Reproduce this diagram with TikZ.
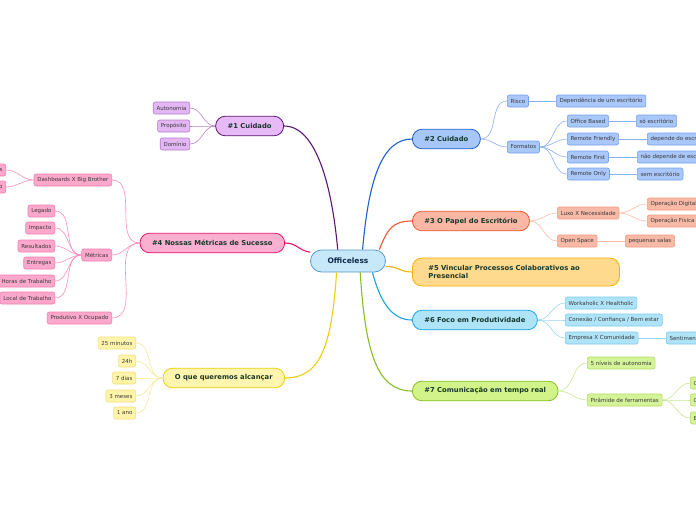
\documentclass[tikz,border=0pt]{standalone}
\usepackage{fontspec}
\setmainfont{DejaVu Sans}
\usepackage{xcolor}
\usetikzlibrary{positioning}
\definecolor{rootfill}{HTML}{C6E8F8}
\definecolor{rootline}{HTML}{5A9BD0}
\definecolor{rootink}{HTML}{10294A}
\definecolor{topicink}{HTML}{16392C}
\definecolor{leafink}{HTML}{3A3A3A}
\definecolor{purpfill}{HTML}{E7B9F7}
\definecolor{purpline}{HTML}{5C1570}
\definecolor{purpleaf}{HTML}{E3B6F4}
\definecolor{purpleafline}{HTML}{B57FCB}
\definecolor{purplink}{HTML}{B985C9}
\definecolor{bluefill}{HTML}{A6C7F8}
\definecolor{blueline}{HTML}{1E60CF}
\definecolor{blueleaf}{HTML}{A9C7F9}
\definecolor{blueleafline}{HTML}{74A2EC}
\definecolor{bluelink}{HTML}{8DB2F0}
\definecolor{salfill}{HTML}{F9B7A4}
\definecolor{salline}{HTML}{EB5A30}
\definecolor{salleaf}{HTML}{F8B9A6}
\definecolor{salleafline}{HTML}{F29A80}
\definecolor{sallink}{HTML}{F9BBA9}
\definecolor{goldfill}{HTML}{FEDA8E}
\definecolor{goldline}{HTML}{F5B100}
\definecolor{skyfill}{HTML}{AEE3F8}
\definecolor{skyline}{HTML}{1AA4E2}
\definecolor{skyleafline}{HTML}{7FCBEF}
\definecolor{skylink}{HTML}{9AD7F2}
\definecolor{grfill}{HTML}{D2F38A}
\definecolor{grline}{HTML}{86BF1E}
\definecolor{grleaf}{HTML}{D5F49A}
\definecolor{grleafline}{HTML}{B4DC62}
\definecolor{grlink}{HTML}{C9E894}
\definecolor{pkfill}{HTML}{FBB0D1}
\definecolor{pkline}{HTML}{E8156D}
\definecolor{pkleaf}{HTML}{FCA8CC}
\definecolor{pkleafline}{HTML}{F27FB1}
\definecolor{pklink}{HTML}{F98FBF}
\definecolor{ylfill}{HTML}{FFF5AE}
\definecolor{ylline}{HTML}{EDCF0B}
\definecolor{ylleaf}{HTML}{FFF4AA}
\definecolor{ylleafline}{HTML}{F3DF78}
\definecolor{yllink}{HTML}{F6EA9C}
\tikzset{
  rootbox/.style={draw=rootline,fill=rootfill,line width=0.8pt,rounded corners=11pt,
    minimum width=75pt,minimum height=22pt,font=\fontsize{7.5}{9}\selectfont\bfseries,text=rootink},
  topicbox/.style={rounded corners=9.5pt,minimum height=19.5pt,inner xsep=12pt,line width=0.8pt,
    font=\fontsize{6.8}{8.5}\selectfont\bfseries,text=topicink},
  leafbox/.style={rounded corners=2pt,minimum height=12pt,inner xsep=3.3pt,inner ysep=1pt,
    line width=0.6pt,font=\fontsize{5.5}{6.5}\selectfont,text=leafink},
  mainlink/.style={line width=1.1pt},
  leaflink/.style={line width=0.6pt},
  purpletopic/.style={topicbox,draw=purpline,fill=purpfill},
  purpleleaf/.style={leafbox,draw=purpleafline,fill=purpleaf},
  bluetopic/.style={topicbox,draw=blueline,fill=bluefill},
  blueleaf/.style={leafbox,draw=blueleafline,fill=blueleaf},
  saltopic/.style={topicbox,draw=salline,fill=salfill},
  salmonleaf/.style={leafbox,draw=salleafline,fill=salleaf},
  goldtopic/.style={topicbox,draw=goldline,fill=goldfill},
  skytopic/.style={topicbox,draw=skyline,fill=skyfill},
  skyleaf/.style={leafbox,draw=skyleafline,fill=skyfill},
  greentopic/.style={topicbox,draw=grline,fill=grfill},
  greenleaf/.style={leafbox,draw=grleafline,fill=grleaf},
  pinktopic/.style={topicbox,draw=pkline,fill=pkfill},
  pinkleaf/.style={leafbox,draw=pkleafline,fill=pkleaf},
  yellowtopic/.style={topicbox,draw=ylline,fill=ylfill},
  yellowleaf/.style={leafbox,draw=ylleafline,fill=ylleaf}
}
\begin{document}
\begin{tikzpicture}[x=1pt,y=-1pt]
  \useasboundingbox[fill=white] (0,0) rectangle (696,520);
  \clip (0,0) rectangle (696,520);

  % centre
  \node[rootbox] (root) at (348,261) {Officeless};

  % main topics
  \node[purpletopic,anchor=east] (cuidado) at (284,126) {\#1 Cuidado};
  \node[bluetopic,anchor=west] (cuidadob) at (412,139) {\#2 Cuidado};
  \node[saltopic,anchor=west] (papel) at (412,221) {\#3 O Papel do Escritório};
  \node[goldtopic,anchor=west,minimum height=28pt,inner xsep=16pt,text width=175pt,align=left]
    (vincular) at (412,272) {\#5 Vincular Processos Colaborativos ao\\Presencial};
  \node[skytopic,anchor=west] (foco) at (412,320) {\#6 Foco em Produtividade};
  \node[greentopic,anchor=west] (comunic) at (412,391) {\#7 Comunicação em tempo real};
  \node[pinktopic,anchor=east] (metricas) at (285,243) {\#4 Nossas Métricas de Sucesso};
  \node[yellowtopic,anchor=east] (alcancar) at (285,378) {O que queremos alcançar};

  \draw[mainlink,purpline] (root.132) .. controls +(-6,-65) and +(32,0) .. (cuidado.east);
  \draw[mainlink,blueline] (root.38) .. controls +(6,-70) and +(-30,0) .. (cuidadob.west);
  \draw[mainlink,salline] (root.20) .. controls +(8,-20) and +(-20,0) .. (papel.west);
  \draw[mainlink,goldline] (root.-8) .. controls +(12,0) and +(-12,0) .. (vincular.west);
  \draw[mainlink,skyline] (root.-25) .. controls +(8,30) and +(-20,0) .. (foco.west);
  \draw[mainlink,grline] (root.-43) .. controls +(5,80) and +(-35,0) .. (comunic.west);
  \draw[mainlink,pkline] (root.167) .. controls +(-12,-2) and +(12,0) .. (metricas.east);
  \draw[mainlink,ylline] (root.-135) .. controls +(-5,75) and +(35,0) .. (alcancar.east);

  % #1
  \node[purpleleaf,anchor=east] (autonomia) at (190,108) {Autonomia};
  \node[purpleleaf,anchor=east] (proposito) at (190,126) {Propósito};
  \node[purpleleaf,anchor=east] (dominio) at (190,144) {Domínio};
  \foreach \n in {autonomia,proposito,dominio}
    \draw[leaflink,purplink] (cuidado.west) to[out=180,in=0] (\n.east);

  % #2
  \node[blueleaf,anchor=west] (risco) at (507,101) {Risco};
  \node[blueleaf,anchor=west] (formatos) at (507,147) {Formatos};
  \node[blueleaf,anchor=west] (dependencia) at (556,101) {Dependência de um escritório};
  \node[blueleaf,anchor=west] (officebased) at (567,121) {Office Based};
  \node[blueleaf,anchor=west] (friendly) at (567,139) {Remote Friendly};
  \node[blueleaf,anchor=west] (first) at (567,157) {Remote First};
  \node[blueleaf,anchor=west] (only) at (567,174) {Remote Only};
  \node[blueleaf,anchor=west] (soesc) at (636,121) {só escritório};
  \node[blueleaf,anchor=west] (dependeesc) at (647,139) {depende do escritório};
  \node[blueleaf,anchor=west] (naodepende) at (637,157) {não depende de escritório};
  \node[blueleaf,anchor=west] (semesc) at (637,174) {sem escritório};
  \foreach \n in {risco,formatos}
    \draw[leaflink,bluelink] (cuidadob.east) to[out=0,in=180] (\n.west);
  \foreach \n in {officebased,friendly,first,only}
    \draw[leaflink,bluelink] (formatos.east) to[out=0,in=180] (\n.west);
  \draw[leaflink,bluelink] (risco) -- (dependencia);
  \draw[leaflink,bluelink] (officebased) -- (soesc);
  \draw[leaflink,bluelink] (friendly) -- (dependeesc);
  \draw[leaflink,bluelink] (first) -- (naodepende);
  \draw[leaflink,bluelink] (only) -- (semesc);

  % #3
  \node[salmonleaf,anchor=west] (luxo) at (557,213) {Luxo X Necessidade};
  \node[salmonleaf,anchor=west] (openspace) at (557,241) {Open Space};
  \node[salmonleaf,anchor=west] (digital) at (647,204) {Operação Digital};
  \node[salmonleaf,anchor=west] (fisica) at (647,221) {Operação Física};
  \node[salmonleaf,anchor=west] (salas) at (625,241) {pequenas salas};
  \foreach \n in {luxo,openspace}
    \draw[leaflink,sallink] (papel.east) to[out=0,in=180] (\n.west);
  \foreach \n in {digital,fisica}
    \draw[leaflink,sallink] (luxo.east) to[out=0,in=180] (\n.west);
  \draw[leaflink,sallink] (openspace) -- (salas);

  % #6
  \node[skyleaf,anchor=west] (workaholic) at (565,303) {Workaholic X Healtholic};
  \node[skyleaf,anchor=west] (conexao) at (565,320) {Conexão / Confiança / Bem estar};
  \node[skyleaf,anchor=west] (empresa) at (565,338) {Empresa X Comunidade};
  \node[skyleaf,anchor=west] (sentimento) at (666,338) {Sentimento};
  \foreach \n in {workaholic,conexao,empresa}
    \draw[leaflink,skylink] (foco.east) to[out=0,in=180] (\n.west);
  \draw[leaflink,skylink] (empresa) -- (sentimento);

  % #7
  \node[greenleaf,anchor=west] (niveis) at (587,363) {5 níveis de autonomia};
  \node[greenleaf,anchor=west] (piramide) at (587,400) {Pirâmide de ferramentas};
  \node[greenleaf,anchor=west] (ferra) at (690,383) {C};
  \node[greenleaf,anchor=west] (ferrb) at (690,400) {C};
  \node[greenleaf,anchor=west] (ferrc) at (690,418) {E};
  \foreach \n in {niveis,piramide}
    \draw[leaflink,grlink] (comunic.east) to[out=0,in=180] (\n.west);
  \foreach \n in {ferra,ferrb,ferrc}
    \draw[leaflink,grlink] (piramide.east) to[out=0,in=180] (\n.west);

  % #4
  \node[pinkleaf,anchor=east] (dashboards) at (112,180) {Dashboards X Big Brother};
  \node[pinkleaf,anchor=east] (metricasleaf) at (112,255) {Métricas};
  \node[pinkleaf,anchor=east] (produtivo) at (112,318) {Produtivo X Ocupado};
  \node[pinkleaf,anchor=east] (dasha) at (6,170) {s};
  \node[pinkleaf,anchor=east] (dashb) at (6,187) {o};
  \node[pinkleaf,anchor=east] (legado) at (55,211) {Legado};
  \node[pinkleaf,anchor=east] (impacto) at (55,228) {Impacto};
  \node[pinkleaf,anchor=east] (resultados) at (55,246) {Resultados};
  \node[pinkleaf,anchor=east] (entregas) at (55,263) {Entregas};
  \node[pinkleaf,anchor=east] (horas) at (55,281) {Horas de Trabalho};
  \node[pinkleaf,anchor=east] (local) at (55,298) {Local de Trabalho};
  \foreach \n in {dashboards,metricasleaf,produtivo}
    \draw[leaflink,pklink] (metricas.west) to[out=180,in=0] (\n.east);
  \foreach \n in {dasha,dashb}
    \draw[leaflink,pklink] (dashboards.west) to[out=180,in=0] (\n.east);
  \foreach \n in {legado,impacto,resultados,entregas,horas,local}
    \draw[leaflink,pklink] (metricasleaf.west) to[out=180,in=0] (\n.east);

  % O que queremos alcançar
  \node[yellowleaf,anchor=east] (minutos) at (136,343) {25 minutos};
  \node[yellowleaf,anchor=east] (horas24) at (136,361) {24h};
  \node[yellowleaf,anchor=east] (dias) at (136,378) {7 dias};
  \node[yellowleaf,anchor=east] (meses) at (136,396) {3 meses};
  \node[yellowleaf,anchor=east] (ano) at (136,413) {1 ano};
  \foreach \n in {minutos,horas24,dias,meses,ano}
    \draw[leaflink,yllink] (alcancar.west) to[out=180,in=0] (\n.east);
\end{tikzpicture}
\end{document}
